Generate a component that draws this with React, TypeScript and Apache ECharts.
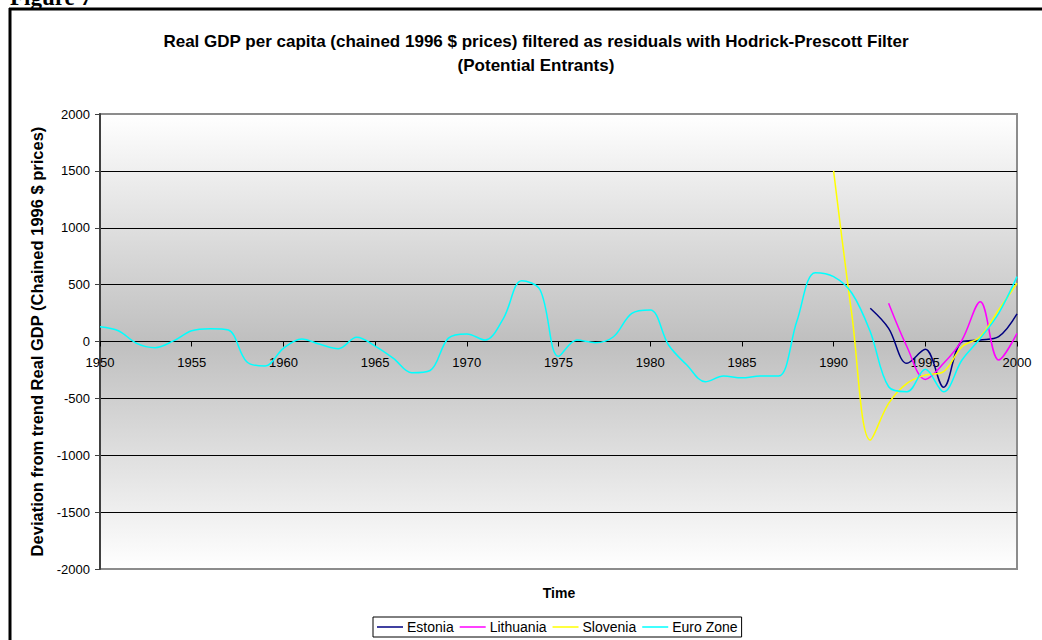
import React, { useEffect, useRef } from "react";
import * as echarts from "echarts";

// Hodrick-Prescott residuals of real GDP per capita (chained 1996 $)
const euroYears = [
  1950, 1951, 1952, 1953, 1954, 1955, 1956, 1957, 1958, 1959,
  1960, 1961, 1962, 1963, 1964, 1965, 1966, 1967, 1968, 1969,
  1970, 1971, 1972, 1973, 1974, 1975, 1976, 1977, 1978, 1979,
  1980, 1981, 1982, 1983, 1984, 1985, 1986, 1987, 1988, 1989,
  1990, 1991, 1992, 1993, 1994, 1995, 1996, 1997, 1998, 1999, 2000,
];
const euroZone = [
  130, 95, -16, -54, 5, 95, 113, 101, -178, -216,
  -60, 22, -25, -63, 37, -40, -148, -275, -255, 30,
  66, 13, 204, 535, 453, -130, 13, -10, 42, 248,
  277, -31, -207, -354, -304, -319, -304, -304, 180, 605,
  570, 424, 86, -398, -442, -245, -442, -163, 28, 248, 570,
];

const estoniaYears = [1992, 1993, 1994, 1995, 1996, 1997, 1998, 1999, 2000];
const estonia = [292, 116, -192, -69, -403, -2, 13, 42, 242];

const lithuaniaYears = [1993, 1994, 1995, 1996, 1997, 1998, 1999, 2000];
const lithuania = [336, -46, -333, -192, 13, 350, -163, 72];

const sloveniaYears = [1990, 1991, 1992, 1993, 1994, 1995, 1996, 1997, 1998, 1999, 2000];
const slovenia = [1500, 230, -867, -544, -368, -295, -265, -46, 42, 277, 512];

const seriesNames = ["Estonia", "Lithuania", "Slovenia", "Euro Zone"];
const seriesColors = ["#000080", "#ff00ff", "#ffff00", "#00ffff"];

const titleLine1 =
  "Real GDP per capita (chained 1996 $ prices) filtered as residuals with Hodrick-Prescott Filter";
const titleLine2 = "(Potential Entrants)";
const yAxisTitle = "Deviation from trend Real GDP (Chained 1996 $ prices)";
const xAxisTitle = "Time";
const figureLabel = "Figure 7";

const FONT = "'Liberation Sans', Arial, sans-serif";

// plot rectangle
const GRID_LEFT = 100;
const GRID_RIGHT = 25;
const GRID_TOP = 114;
const GRID_BOTTOM = 71;
const GRID_HEIGHT = 640 - GRID_TOP - GRID_BOTTOM;

const pairs = (xs: number[], ys: number[]) => xs.map((x, i) => [x, ys[i]]);

export default function App() {
  const ref = useRef<HTMLDivElement>(null);

  useEffect(() => {
    if (!ref.current) return;
    const chart = echarts.init(ref.current, null, { renderer: "svg" });
    const dataSets = [
      pairs(estoniaYears, estonia),
      pairs(lithuaniaYears, lithuania),
      pairs(sloveniaYears, slovenia),
      pairs(euroYears, euroZone),
    ];

    chart.setOption({
      animation: false,
      backgroundColor: "#ffffff",
      title: {
        text: titleLine1 + "\n" + titleLine2,
        left: 531,
        top: 24,
        textAlign: "center",
        textStyle: {
          fontFamily: FONT,
          fontWeight: "bold",
          fontSize: 17,
          color: "#000",
          lineHeight: 24,
        },
      },
      grid: {
        left: GRID_LEFT,
        right: GRID_RIGHT,
        top: GRID_TOP,
        bottom: GRID_BOTTOM,
        show: true,
        borderColor: "#8c8c8c",
        borderWidth: 2,
        backgroundColor: new echarts.graphic.LinearGradient(0, 0, 0, 1, [
          { offset: 0, color: "#ffffff" },
          { offset: 0.5, color: "#bfbfbf" },
          { offset: 1, color: "#ffffff" },
        ]),
      },
      xAxis: {
        type: "value",
        min: 1950,
        max: 2000,
        interval: 5,
        // axis sits on the zero line, labels just below it
        offset: -GRID_HEIGHT / 2,
        axisLine: { show: true, onZero: false, lineStyle: { color: "#000", width: 1 } },
        axisTick: { show: true, length: 5, lineStyle: { color: "#000" } },
        axisLabel: {
          margin: 14,
          fontFamily: FONT,
          fontSize: 13,
          color: "#000",
          formatter: (v: number) => String(v),
        },
        splitLine: { show: false },
      },
      yAxis: {
        type: "value",
        min: -2000,
        max: 2000,
        interval: 500,
        name: yAxisTitle,
        nameLocation: "middle",
        nameGap: 55,
        nameTextStyle: {
          fontFamily: FONT,
          fontWeight: "bold",
          fontSize: 16.5,
          color: "#000",
        },
        axisLine: { show: true, lineStyle: { color: "#404040", width: 2 } },
        axisTick: { show: true, length: 5, lineStyle: { color: "#404040" } },
        axisLabel: {
          margin: 10,
          fontFamily: FONT,
          fontSize: 13,
          color: "#000",
          formatter: (v: number) => String(v),
        },
        splitLine: {
          show: true,
          showMinLine: false,
          showMaxLine: false,
          lineStyle: { color: "#000", width: 1 },
        },
      },
      legend: {
        data: seriesNames,
        left: 373,
        top: 617,
        orient: "horizontal",
        icon: "rect",
        itemWidth: 26,
        itemHeight: 1.5,
        itemGap: 6,
        padding: [3, 4],
        borderColor: "#000",
        borderWidth: 1,
        textStyle: { fontFamily: FONT, fontSize: 14, color: "#000", padding: [0, 0, 0, -1] },
      },
      graphic: [
        {
          type: "text",
          left: 10,
          top: -14,
          style: {
            text: figureLabel,
            font: "bold 23px 'Liberation Serif', 'Times New Roman', serif",
            fill: "#000",
          },
        },
        {
          type: "line",
          shape: { x1: 10, y1: 8, x2: 10, y2: 640 },
          style: { stroke: "#000", lineWidth: 3 },
        },
        {
          type: "line",
          shape: { x1: 9, y1: 9, x2: 1042, y2: 9 },
          style: { stroke: "#000", lineWidth: 3 },
        },
        {
          type: "text",
          x: 559,
          y: 593,
          style: {
            text: xAxisTitle,
            font: `bold 14px ${FONT}`,
            fill: "#000",
            align: "center",
            verticalAlign: "middle",
          },
        },
      ],
      series: seriesNames.map((name, i) => ({
        name,
        type: "line",
        data: dataSets[i],
        symbol: "none",
        smooth: 0.35,
        color: seriesColors[i],
        lineStyle: { color: seriesColors[i], width: 1.5 },
      })),
    });

    return () => chart.dispose();
  }, []);

  return (
    <div
      ref={ref}
      style={{ position: "fixed", left: 0, top: 0, width: 1042, height: 640 }}
    />
  );
}
